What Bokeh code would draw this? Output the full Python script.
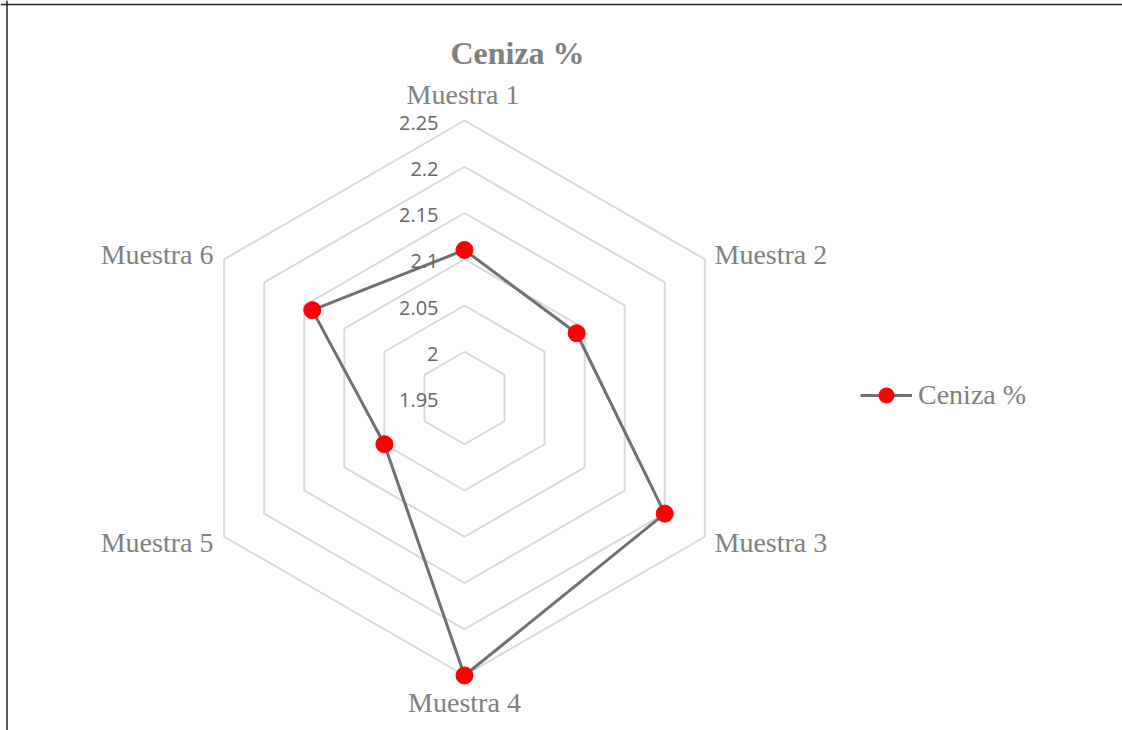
import numpy as np
from bokeh.plotting import figure
from bokeh.models import Range1d, Label, Legend, LegendItem, Span
from bokeh.embed import file_html
from bokeh.resources import INLINE

# ---- data ----
categories = ["Muestra 1", "Muestra 2", "Muestra 3", "Muestra 4", "Muestra 5", "Muestra 6"]
ceniza = [2.11, 2.09, 2.20, 2.25, 2.05, 2.14]
series_name = "Ceniza %"
title_text = "Ceniza %"
tick_values = [1.95, 2.00, 2.05, 2.10, 2.15, 2.20, 2.25]
tick_labels = ["1.95", "2", "2.05", "2.1", "2.15", "2.2", "2.25"]

# ---- geometry ----
W, H = 1122, 730
S = 277.5            # px per unit radius
CX, CY = 464, 397.5  # canvas position of the centre
vmin, vmax = tick_values[0], tick_values[-1]

def rad(v):
    return (v - vmin) / (vmax - vmin)

n = len(categories)
ang = np.deg2rad(90 - 360.0 / n * np.arange(n))

p = figure(width=W, height=H, output_backend="svg", toolbar_location=None,
           x_range=Range1d(-CX / S, (W - CX) / S),
           y_range=Range1d(-(H - CY) / S, CY / S),
           min_border=0)
p.axis.visible = False
p.xgrid.visible = False
p.ygrid.visible = False
p.outline_line_color = None
p.background_fill_color = "white"
p.border_fill_color = "white"

# rings
xs, ys = [], []
for v in tick_values[1:]:
    r = rad(v)
    xs.append(list(r * np.cos(ang)) + [r * np.cos(ang[0])])
    ys.append(list(r * np.sin(ang)) + [r * np.sin(ang[0])])
p.multi_line(xs, ys, line_color="#D9D9D9", line_width=2)

# tick labels
for v, t in zip(tick_values, tick_labels):
    p.add_layout(Label(x=0, y=rad(v), text=t, x_offset=-26, y_offset=-2,
                       text_align="right", text_baseline="alphabetic",
                       text_font="Open Sans", text_font_size="20px",
                       text_color="#666666"))

# data series
r_vals = np.array([rad(v) for v in ceniza])
dx = list(r_vals * np.cos(ang)) + [r_vals[0] * np.cos(ang[0])]
dy = list(r_vals * np.sin(ang)) + [r_vals[0] * np.sin(ang[0])]
line_r = p.line(dx, dy, line_color="#707070", line_width=3)
pts_r = p.scatter(list(r_vals * np.cos(ang)), list(r_vals * np.sin(ang)),
                  size=17, fill_color="#FF0000", line_color="#FF0000")

# category labels
offsets = [("center", -1.5, 26.3), ("left", 9.7, 4.5), ("left", 9.7, -6),
           ("center", 0, -27), ("right", -10.7, -6), ("right", -10.7, 4.5)]
for i, c in enumerate(categories):
    al, ox, oy = offsets[i]
    p.add_layout(Label(x=np.cos(ang[i]), y=np.sin(ang[i]), text=c,
                       x_offset=ox, y_offset=oy, text_align=al,
                       text_baseline="alphabetic", text_font="Liberation Serif",
                       text_font_size="28px", text_color="#808080"))

# title
p.add_layout(Label(x=(517 - CX) / S, y=(CY - 52.5) / S, text=title_text,
                   text_align="center", text_baseline="alphabetic",
                   text_font="Liberation Serif", text_font_size="32px",
                   text_font_style="bold", text_color="#808080"))

# legend
legend = Legend(items=[LegendItem(label=series_name, renderers=[line_r, pts_r])],
                location=(860, 316), orientation="vertical",
                glyph_width=52, glyph_height=38, label_height=38,
                label_standoff=6, padding=0, margin=0, spacing=0,
                border_line_color=None, background_fill_alpha=0,
                label_text_font="Liberation Serif", label_text_font_size="28px",
                label_text_color="#808080", label_text_baseline="middle")
p.add_layout(legend, "center")

# frame border (top and left edges)
p.add_layout(Span(location=(CY - 4) / S, dimension="width",
                  line_color="#262626", line_width=1.5))
p.add_layout(Span(location=(-CX + 6.5) / S, dimension="height",
                  line_color="#262626", line_width=1.5))

open("out.html", "w").write(file_html(p, INLINE))
